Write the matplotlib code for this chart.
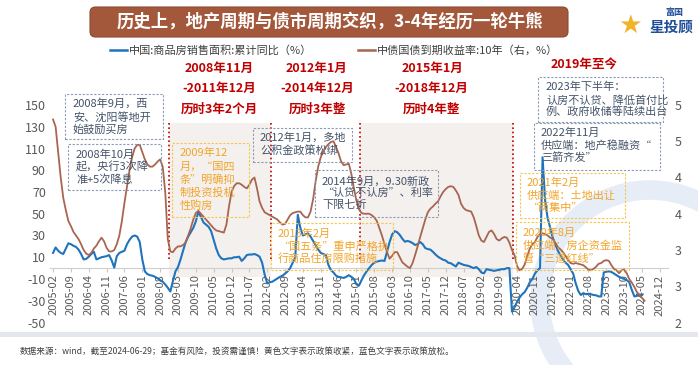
import matplotlib
matplotlib.use("Agg")
import matplotlib.pyplot as plt
import numpy as np
from matplotlib.patches import Rectangle, FancyBboxPatch, Arc
from matplotlib.lines import Line2D
from matplotlib.ticker import FuncFormatter

plt.rcParams['font.family'] = ['Noto Sans CJK SC', 'DejaVu Sans']
plt.rcParams['axes.unicode_minus'] = False

W, H = 698, 365

# ---------------- data ----------------
series_start = "2005-02"

# 中国:商品房销售面积:累计同比(%) monthly, 2005-02 .. 2024-05
sales_area_yoy = [
    14, 19, 16, 14, 13, 18, 22.8, 22, 20.5, 19.5, 17,               # 2005 Feb-Dec
    13, 8, 8.5, 10.5, 13, 15, 8, 9, 10, 10.5, 11, 12,               # 2006
    7, 0.5, 11, 14, 15, 16, 22, 26, 29, 30, 29, 24,                 # 2007
    8, -3, -5.5, -6.5, -7, -8, -9.5, -11, -12.5, -15, -18, -21.5,   # 2008
    -12, -3, 1, 8, 16, 24, 29, 33, 37, 43, 52, 47,                  # 2009
    42, 40, 38, 34, 26, 18, 12, 9, 8, 8.5, 9, 9,                    # 2010
    10, 10, 10.5, 6.6, 9, 12, 12.5, 12.5, 13, 12, 10.5, 5,          # 2011
    -6, -14, -13, -12.5, -11, -9.5, -8, -7, -5, -3, 0, 5,           # 2012
    10, 49, 37, 30, 31, 32, 29, 25, 21, 17, 14, 13,                 # 2013
    12, 3, -2, -4, -7, -8, -8.5, -9, -8, -6.5, -8, -10,             # 2014
    -15, -16, -11, -6.5, -3, 0, 3, 5, 6, 6.6, 7, 6.6,               # 2015
    15, 24, 31, 34, 33, 30.5, 27, 24.3, 25, 24.3, 23, 21.3,         # 2016
    22, 24, 22, 18.4, 17.5, 17, 15, 12.5, 10.5, 9, 7.7, 7,          # 2017
    5, 4.5, 3, 1.5, 5, 4, 3, 2.5, 2, 1, 0, 1,                       # 2018
    -1, -4, -4.8, -1, -1.5, -2, -2.5, -2, -1.5, -1, -1, 0,          # 2019
    0, -40, -36, -31, -27, -24, -22, -18, -13, -10, -5, -2,         # 2020
    0, 102, 62, 46, 37, 28, 22, 16, 12, 8, 5, 3,                    # 2021
    -1, -5, -14, -21, -24.7, -23, -24, -23.5, -24, -24.7, -25, -26, # 2022
    -26, -4, -3.3, -3, -3.5, -5, -6.5, -8, -9, -10, -11, -13,       # 2023
    -20, -26, -25.5, -25, -24.7,                                    # 2024 Jan-May
]

# 中债国债到期收益率:10年(%) monthly, 2005-02 .. 2024-06
bond_yield_10y = [
    4.8, 4.7, 4.35, 4.0, 3.72, 3.55, 3.4, 3.33, 3.25, 3.2, 3.15,        # 2005 Feb-Dec
    3.08, 3.0, 2.95, 2.93, 2.96, 3.02, 3.06, 3.12, 3.17, 3.12, 3.03, 2.98,  # 2006
    2.98, 3.0, 3.08, 3.2, 3.4, 3.65, 3.88, 4.1, 4.28, 4.4, 4.45, 4.45,  # 2007
    4.35, 4.25, 4.18, 4.15, 4.15, 4.18, 4.22, 4.25, 4.15, 3.8, 3.15, 2.98,  # 2008
    2.97, 3.02, 3.05, 3.05, 3.07, 3.1, 3.2, 3.3, 3.42, 3.51, 3.54, 3.5,  # 2009
    3.46, 3.42, 3.38, 3.34, 3.3, 3.27, 3.26, 3.25, 3.24, 3.35, 3.6, 3.8,  # 2010
    3.88, 3.92, 3.92, 3.9, 3.87, 3.85, 3.9, 3.97, 4.0, 3.85, 3.67, 3.58,  # 2011
    3.52, 3.5, 3.48, 3.46, 3.44, 3.42, 3.38, 3.35, 3.36, 3.42, 3.48, 3.51,  # 2012
    3.52, 3.53, 3.53, 3.48, 3.45, 3.45, 3.53, 3.7, 3.95, 4.15, 4.28, 4.36,  # 2013
    4.42, 4.46, 4.49, 4.5, 4.42, 4.33, 4.22, 4.17, 4.18, 4.19, 4.05, 3.85,  # 2014
    3.68, 3.56, 3.51, 3.5, 3.5, 3.5, 3.48, 3.45, 3.4, 3.3, 3.2, 3.08,   # 2015
    2.97, 2.88, 2.92, 2.97, 2.97, 2.9, 2.83, 2.8, 2.77, 2.75, 2.82, 2.93,  # 2016
    3.05, 3.18, 3.3, 3.42, 3.52, 3.57, 3.6, 3.64, 3.67, 3.74, 3.8, 3.84,  # 2017
    3.87, 3.88, 3.87, 3.82, 3.76, 3.64, 3.58, 3.55, 3.54, 3.53, 3.45, 3.33,  # 2018
    3.2, 3.13, 3.11, 3.18, 3.25, 3.27, 3.22, 3.15, 3.13, 3.16, 3.18, 3.17,  # 2019
    3.1, 3.0, 2.93, 2.78, 2.72, 2.74, 2.8, 2.92, 3.02, 3.08, 3.11, 3.18,  # 2020
    3.22, 3.23, 3.22, 3.2, 3.17, 3.15, 3.1, 3.04, 3.01, 2.97, 2.92, 2.86,  # 2021
    2.82, 2.81, 2.82, 2.81, 2.8, 2.79, 2.76, 2.73, 2.72, 2.74, 2.77, 2.81,  # 2022
    2.82, 2.85, 2.86, 2.85, 2.79, 2.74, 2.72, 2.68, 2.72, 2.73, 2.68, 2.6,  # 2023
    2.55, 2.49, 2.42, 2.38, 2.34, 2.3,                                  # 2024 Jan-Jun
]

tick_labels = [
    "2005-02", "2005-09", "2006-04", "2006-11", "2007-06", "2008-01", "2008-08",
    "2009-03", "2009-10", "2010-05", "2010-12", "2011-07", "2012-02", "2012-09",
    "2013-04", "2013-11", "2014-06", "2015-01", "2015-08", "2016-03", "2016-10",
    "2017-05", "2017-12", "2018-07", "2019-02", "2019-09", "2020-04", "2020-11",
    "2021-06", "2022-01", "2022-08", "2023-03", "2023-10", "2024-05", "2024-12",
]

left_ticks = [-50, -30, -10, 10, 30, 50, 70, 90, 110, 130, 150]
right_ticks = [2.0, 2.5, 3.0, 3.5, 4.0, 4.5, 5.0]

cycle_marks = ["2008-11", "2012-03", "2015-02", "2020-02"]
shaded_cycles = [("2008-11", "2012-03"), ("2015-02", "2020-02")]

series_names = ["中国:商品房销售面积:累计同比（%）", "中债国债到期收益率:10年（右，%）"]
title_text = "历史上，地产周期与债市周期交织，3-4年经历一轮牛熊"

# ---------------- helpers ----------------
def month_index(s):
    y, m = map(int, s.split("-"))
    y0, m0 = map(int, series_start.split("-"))
    return (y - y0) * 12 + (m - m0)

def fx(x):
    return x / W

def fy(y):
    return 1 - y / H

BLUE = "#1f74bd"
BROWN = "#a8654f"
RED = "#c00000"
NOTE_BLUE = "#44546a"
NOTE_YEL = "#f2a52a"

fig = plt.figure(figsize=(W / 100, H / 100), dpi=100)
fig.patch.set_facecolor("white")

# faint watermark arc
wm = Arc((fx(650), fy(300)), 220 / W, 220 / H, theta1=60, theta2=250,
         transform=fig.transFigure, color="#e6edf6", lw=14, zorder=0)
fig.add_artist(wm)

ax = fig.add_axes([fx(50), fy(322.5), 618 / W, 217.5 / H])
ax.set_xlim(-1.2, 241.2)
ax.set_ylim(-50, 150)
ax.patch.set_visible(False)

x_sales = np.arange(len(sales_area_yoy))
x_yield = np.arange(len(bond_yield_10y))

# shading & cycle markers
for a, b in shaded_cycles:
    xa, xb = month_index(a) + 0.4, month_index(b) + 0.4
    ax.add_patch(Rectangle((xa, -8), xb - xa, 141, facecolor="#f4f0ee",
                           edgecolor="none", zorder=0))
for c in cycle_marks:
    xc = month_index(c) + 0.4
    ax.plot([xc, xc], [8, 133], color=RED, ls=(0, (1, 1.6)), lw=1.2, zorder=1)

ax.plot(x_sales, sales_area_yoy, color=BLUE, lw=1.5, zorder=3,
        solid_joinstyle="round")

for s in ["top", "left", "right"]:
    ax.spines[s].set_visible(False)
ax.spines["bottom"].set_position(("data", 0))
ax.spines["bottom"].set_color("#cfcfcf")
ax.set_xticks([month_index(t) for t in tick_labels])
ax.set_xticklabels(tick_labels, rotation=90, fontsize=8, color="#595959")
ax.tick_params(axis="x", length=3, color="#c8c8c8", pad=1.5)
ax.set_yticks(left_ticks)
ax.set_yticklabels([str(v) for v in left_ticks], fontsize=9, color="#595959")
ax.tick_params(axis="y", length=0, pad=3)

ax2 = ax.twinx()
ax2.set_ylim(2, 5)
ax2.plot(x_yield, bond_yield_10y, color=BROWN, lw=1.3, zorder=3,
         solid_joinstyle="round")
for s in ax2.spines.values():
    s.set_visible(False)
ax2.set_yticks(right_ticks)
ax2.yaxis.set_major_formatter(FuncFormatter(lambda v, p: f"{int(v + 0.5 + 1e-9)}"))
ax2.tick_params(axis="y", length=0, pad=5, labelsize=9, labelcolor="#595959")

# ---------------- title banner ----------------
banner = FancyBboxPatch((fx(90), fy(37)), (568 - 90) / W, 30 / H,
                        boxstyle="round,pad=0,rounding_size=0.008",
                        mutation_aspect=W / H, transform=fig.transFigure,
                        facecolor="#a3583b", edgecolor="#8c4a32", lw=0.8, zorder=2)
fig.add_artist(banner)
fig.text(fx(330), fy(22), title_text, color="white", fontsize=12.5,
         fontweight="bold", ha="center", va="center", zorder=3)

# logo
fig.text(fx(630), fy(26), "★", color="#f0b429", fontsize=19, ha="center",
         va="center", family=["DejaVu Sans"])
fig.text(fx(674), fy(12), "富国", color="#1f4e99", fontsize=6.5,
         fontweight="bold", ha="center", va="center")
fig.text(fx(671), fy(27), "星投顾", color="#1f4e99", fontsize=10.5,
         fontweight="bold", ha="center", va="center", style="italic")

# ---------------- legend ----------------
fig.add_artist(Line2D([fx(110), fx(127)], [fy(50), fy(50)], color=BLUE, lw=1.8,
                      transform=fig.transFigure))
fig.text(fx(129), fy(50), series_names[0], fontsize=8, color="#404040",
         ha="left", va="center")
fig.add_artist(Line2D([fx(358), fx(375)], [fy(50), fy(50)], color=BROWN, lw=1.8,
                      transform=fig.transFigure))
fig.text(fx(377), fy(50), series_names[1], fontsize=8, color="#404040",
         ha="left", va="center")

# ---------------- red cycle labels ----------------
red_labels = [
    (219, 68, "2008年11月"), (219, 88, "-2011年12月"), (219, 109, "历时3年2个月"),
    (316, 68, "2012年1月"), (317, 88, "-2014年12月"), (317, 109, "历时3年整"),
    (432, 68, "2015年1月"), (431, 88, "-2018年12月"), (431, 109, "历时4年整"),
    (584, 64, "2019年至今"),
]
for x, y, t in red_labels:
    fig.text(fx(x), fy(y), t, color=RED, fontsize=9, fontweight="bold",
             ha="center", va="center")

# ---------------- policy notes ----------------
notes = [
    ((65, 94, 163, 139), 73, [104, 117, 129],
     ["2008年9月，西", "安、沈阳等地开", "始鼓励买房"], "blue"),
    ((68, 144, 161, 190), 76, [155, 167, 180],
     ["2008年10月", "起，央行3次降", "准+5次降息"], "blue"),
    ((172, 143, 249, 217), 180, [153, 167, 180, 193, 206],
     ["2009年12", "月，“国四", "条”明确抑", "制投资投机", "性购房"], "yellow"),
    ((253, 128, 352, 162), 260, [138, 151],
     ["2012年1月，多地", "公积金政策松绑"], "blue"),
    ((315, 170, 438, 217), 322, [181, 193, 205],
     ["2014年9月，9.30新政", "“认贷不认房”、利率", "下限七折"], "blue"),
    ((271, 223, 393, 270), 278, [234, 247, 259],
     ["2013年2月", "“国五条”重申严格执", "行商品住房限购措施"], "yellow"),
    ((538, 77, 663, 122), 546, [87, 100, 112],
     ["2023年下半年：", "认房不认贷、降低首付比", "例、政府收储等陆续出台"], "blue"),
    ((534, 123, 660, 170), 541, [133, 146, 158],
     ["2022年11月", "供应端：地产稳融资“", "三箭齐发”"], "blue"),
    ((520, 173, 625, 218), 527, [183, 196, 208],
     ["2021年2月", "供应端：土地出让", "“两集中”"], "yellow"),
    ((516, 222, 629, 270), 523, [233, 246, 258],
     ["2020年8月", "供应端：房企资金监", "管“三道红线”"], "yellow"),
]
for (x0, y0, x1, y1), tx, ys, lines, kind in notes:
    tc = NOTE_BLUE if kind == "blue" else NOTE_YEL
    ec = "#8a9bb3" if kind == "blue" else "#f6c64a"
    fig.add_artist(Rectangle((fx(x0), fy(y1)), (x1 - x0) / W, (y1 - y0) / H,
                             transform=fig.transFigure, facecolor="none",
                             edgecolor=ec, lw=0.8, ls=(0, (2, 1.5)), zorder=4))
    for y, t in zip(ys, lines):
        fig.text(fx(tx), fy(y), t, color=tc, fontsize=8, ha="left",
                 va="center", zorder=5)

# ---------------- footer ----------------
fig.add_artist(Rectangle((0, fy(337)), 1, 5 / H, transform=fig.transFigure,
                         facecolor="#e4e8ee", edgecolor="none"))
fig.text(fx(20), fy(351),
         "数据来源：wind，截至2024-06-29；基金有风险，投资需谨慎！黄色文字表示政策收紧，蓝色文字表示政策放松。",
         fontsize=6.2, color="#404040", ha="left", va="center")

fig.savefig("out.png", dpi=100)
